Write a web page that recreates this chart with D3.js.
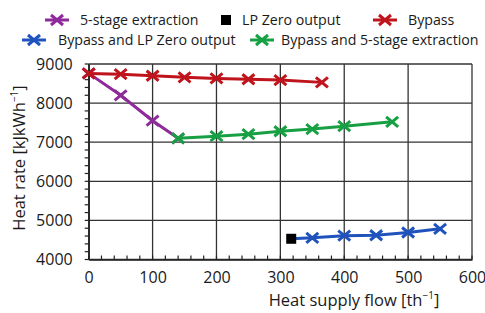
<!DOCTYPE html>
<html>
<head>
<meta charset="utf-8">
<script src="https://cdn.jsdelivr.net/npm/d3@7"></script>
<style>
  body { margin: 0; background: #fff; }
  text { font-family: "Open Sans", sans-serif; fill: #1a1a1a; }
</style>
</head>
<body>
<div id="chart"></div>
<script>
// data
const bypassX = [0, 50, 100, 150, 200, 250, 300, 365]
const bypassY = [8760, 8740, 8700, 8660, 8630, 8610, 8590, 8530]
const extractionX = [0, 50, 100, 140]
const extractionY = [8760, 8200, 7550, 7100]
const bypassExtrX = [140, 200, 250, 300, 350, 400, 475]
const bypassExtrY = [7100, 7155, 7205, 7280, 7335, 7410, 7520]
const lpZeroX = [317]
const lpZeroY = [4530]
const bypassLpX = [317, 350, 400, 450, 500, 550]
const bypassLpY = [4530, 4555, 4610, 4620, 4690, 4785]
const xTicks = [0, 100, 200, 300, 400, 500, 600]
const yTicks = [4000, 5000, 6000, 7000, 8000, 9000]

const colors = {
  extraction: '#8e2a9a',
  bypass: '#c0141c',
  bypassLp: '#1f52bd',
  bypassExtr: '#17a043',
}

const dimensions = {
  width: 485,
  height: 313,
  margins: { left: 88.7, right: 13, top: 64, bottom: 53.5 },
}
const ctrW = dimensions.width - dimensions.margins.left - dimensions.margins.right
const ctrH = dimensions.height - dimensions.margins.top - dimensions.margins.bottom

const xScale = d3.scaleLinear().domain([0, 600]).range([0, ctrW])
const yScale = d3.scaleLinear().domain([4000, 9000]).range([ctrH, 0])

const svg = d3.select('#chart').append('svg')
  .attr('width', dimensions.width)
  .attr('height', dimensions.height)

const ctr = svg.append('g')
  .attr('transform', `translate(${dimensions.margins.left}, ${dimensions.margins.top})`)

// grid
ctr.append('g').selectAll('line').data(xTicks).join('line')
  .attr('x1', d => xScale(d)).attr('x2', d => xScale(d))
  .attr('y1', 0).attr('y2', ctrH)
  .attr('stroke', '#333').attr('stroke-width', 1.3)
ctr.append('g').selectAll('line').data(yTicks).join('line')
  .attr('x1', 0).attr('x2', ctrW)
  .attr('y1', d => yScale(d)).attr('y2', d => yScale(d))
  .attr('stroke', '#333').attr('stroke-width', 1.3)

// axes
const xAxis = d3.axisBottom(xScale).tickValues(xTicks).tickFormat(d3.format('d')).tickSize(0).tickPadding(12)
const yAxis = d3.axisLeft(yScale).tickValues(yTicks).tickFormat(d3.format('d')).tickSize(0).tickPadding(16)

const xAxisGroup = ctr.append('g').attr('transform', `translate(0, ${ctrH})`).call(xAxis)
xAxisGroup.select('.domain').attr('stroke', '#222').attr('stroke-width', 1.5)
xAxisGroup.selectAll('text').style('font-size', '16px').attr('fill', '#1a1a1a')
xAxisGroup.selectAll('.minor').data(d3.range(0, 601, 20)).join('line')
  .attr('x1', d => xScale(d)).attr('x2', d => xScale(d))
  .attr('y1', 0).attr('y2', -4)
  .attr('stroke', '#222').attr('stroke-width', 1.2)

const yAxisGroup = ctr.append('g').call(yAxis)
yAxisGroup.select('.domain').attr('stroke', '#222').attr('stroke-width', 1.5)
yAxisGroup.selectAll('text').style('font-size', '16px').attr('fill', '#1a1a1a')
yAxisGroup.selectAll('.minor').data(d3.range(4000, 9001, 200)).join('line')
  .attr('x1', 0).attr('x2', -4)
  .attr('y1', d => yScale(d)).attr('y2', d => yScale(d))
  .attr('stroke', '#222').attr('stroke-width', 1.2)

// axis titles
svg.append('text')
  .attr('x', 354).attr('y', 306)
  .attr('text-anchor', 'middle')
  .style('font-size', '16.5px')
  .html('Heat supply flow [th<tspan dy="-7" font-size="10">−1</tspan><tspan dy="7">]</tspan>')
svg.append('text')
  .attr('transform', 'translate(25, 158) rotate(-90)')
  .attr('text-anchor', 'middle')
  .style('font-size', '16.5px')
  .html('Heat rate [kJkWh<tspan dy="-7" font-size="10">−1</tspan><tspan dy="7">]</tspan>')

// series
const line = d3.line().x(d => xScale(d[0])).y(d => yScale(d[1]))
const crossPath = 'M-6,-5L6,5M-6,5L6,-5'

function drawSeries(xs, ys, color, skipFirstMarker) {
  const pts = xs.map((x, i) => [x, ys[i]])
  ctr.append('path').datum(pts)
    .attr('d', line)
    .attr('fill', 'none')
    .attr('stroke', color)
    .attr('stroke-width', 3)
  ctr.append('g').selectAll('path')
    .data(skipFirstMarker ? pts.slice(1) : pts)
    .join('path')
    .attr('transform', d => `translate(${xScale(d[0])}, ${yScale(d[1])})`)
    .attr('d', crossPath)
    .attr('stroke', color)
    .attr('stroke-width', 3)
}

drawSeries(extractionX, extractionY, colors.extraction, false)
drawSeries(bypassExtrX, bypassExtrY, colors.bypassExtr, false)
drawSeries(bypassX, bypassY, colors.bypass, false)
drawSeries(bypassLpX, bypassLpY, colors.bypassLp, true)

ctr.append('g').selectAll('rect')
  .data(lpZeroX.map((x, i) => [x, lpZeroY[i]]))
  .join('rect')
  .attr('x', d => xScale(d[0]) - 5).attr('y', d => yScale(d[1]) - 5)
  .attr('width', 10).attr('height', 10)
  .attr('fill', '#000')

// legend
const legendItems = [
  { label: '5-stage extraction', color: colors.extraction, type: 'line', x: 45, y: 20, tx: 35 },
  { label: 'LP Zero output', color: '#000', type: 'square', x: 221, y: 20, tx: 21 },
  { label: 'Bypass', color: colors.bypass, type: 'line', x: 373, y: 20, tx: 35 },
  { label: 'Bypass and LP Zero output', color: colors.bypassLp, type: 'line', x: 22, y: 40, tx: 36 },
  { label: 'Bypass and 5-stage extraction', color: colors.bypassExtr, type: 'line', x: 250, y: 40, tx: 31 },
]
const legend = svg.append('g')
legendItems.forEach(item => {
  const g = legend.append('g').attr('transform', `translate(${item.x}, ${item.y})`)
  if (item.type === 'line') {
    g.append('line').attr('x1', 0).attr('x2', 24).attr('y1', 0).attr('y2', 0)
      .attr('stroke', item.color).attr('stroke-width', 3)
    g.append('path').attr('transform', 'translate(12, 0)').attr('d', crossPath)
      .attr('stroke', item.color).attr('stroke-width', 3)
  } else {
    g.append('rect').attr('x', 0).attr('y', -5).attr('width', 10).attr('height', 10).attr('fill', item.color)
  }
  g.append('text').attr('x', item.tx).attr('y', 5).style('font-size', '14.2px').text(item.label)
})
</script>
</body>
</html>
